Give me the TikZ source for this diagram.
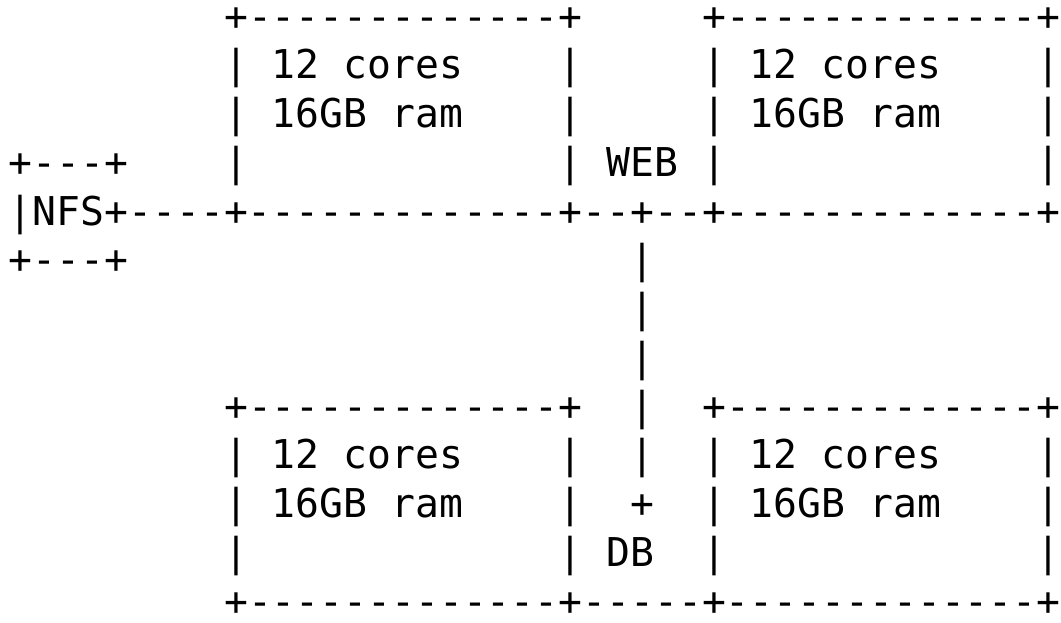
\documentclass[tikz,border=0pt]{standalone}
\usepackage{fontspec}
\setmonofont{DejaVu Sans Mono}
\tikzset{asc/.style={inner sep=0pt, outer sep=0pt, anchor=base west, font=\ttfamily\fontsize{39.7}{49}\selectfont, text=black}}
\newcommand{\seg}[4]{\node[asc] (#1) at ({(9+23.9*#2)*1pt},{-(30+48.75*#3)*1pt}) {#4};}
\begin{document}
\begin{tikzpicture}
\useasboundingbox[fill=white] (0,0) rectangle (1061pt,-622pt);
% row 0
\seg{rA}{9}{0}{+-------------+}
\seg{rB}{29}{0}{+-------------+}
% row 1
\seg{aA}{9}{1}{|}\seg{aB}{11}{1}{12 cores}\seg{aC}{23}{1}{|}
\seg{aD}{29}{1}{|}\seg{aE}{31}{1}{12 cores}\seg{aF}{43}{1}{|}
% row 2
\seg{bA}{9}{2}{|}\seg{bB}{11}{2}{16GB ram}\seg{bC}{23}{2}{|}
\seg{bD}{29}{2}{|}\seg{bE}{31}{2}{16GB ram}\seg{bF}{43}{2}{|}
% row 3
\seg{cN}{0}{3}{+---+}
\seg{cA}{9}{3}{|}\seg{cC}{23}{3}{|}\seg{web}{25}{3}{WEB}
\seg{cD}{29}{3}{|}\seg{cF}{43}{3}{|}
% row 4
\seg{nfs}{0}{4}{|NFS+----+-------------+--+--+-------------+}
% row 5
\seg{eN}{0}{5}{+---+}\seg{eV}{26}{5}{|}
% rows 6-7
\seg{fV}{26}{6}{|}
\seg{gV}{26}{7}{|}
% row 8
\seg{hA}{9}{8}{+-------------+}\seg{hV}{26}{8}{|}\seg{hB}{29}{8}{+-------------+}
% row 9
\seg{iA}{9}{9}{|}\seg{iB}{11}{9}{12 cores}\seg{iC}{23}{9}{|}\seg{iV}{26}{9}{|}
\seg{iD}{29}{9}{|}\seg{iE}{31}{9}{12 cores}\seg{iF}{43}{9}{|}
% row 10
\seg{jA}{9}{10}{|}\seg{jB}{11}{10}{16GB ram}\seg{jC}{23}{10}{|}\seg{jV}{26}{10}{+}
\seg{jD}{29}{10}{|}\seg{jE}{31}{10}{16GB ram}\seg{jF}{43}{10}{|}
% row 11
\seg{kA}{9}{11}{|}\seg{kC}{23}{11}{|}\seg{db}{25}{11}{DB}
\seg{kD}{29}{11}{|}\seg{kF}{43}{11}{|}
% row 12
\seg{lA}{9}{12}{+-------------+-----+-------------+}
\end{tikzpicture}
\end{document}
